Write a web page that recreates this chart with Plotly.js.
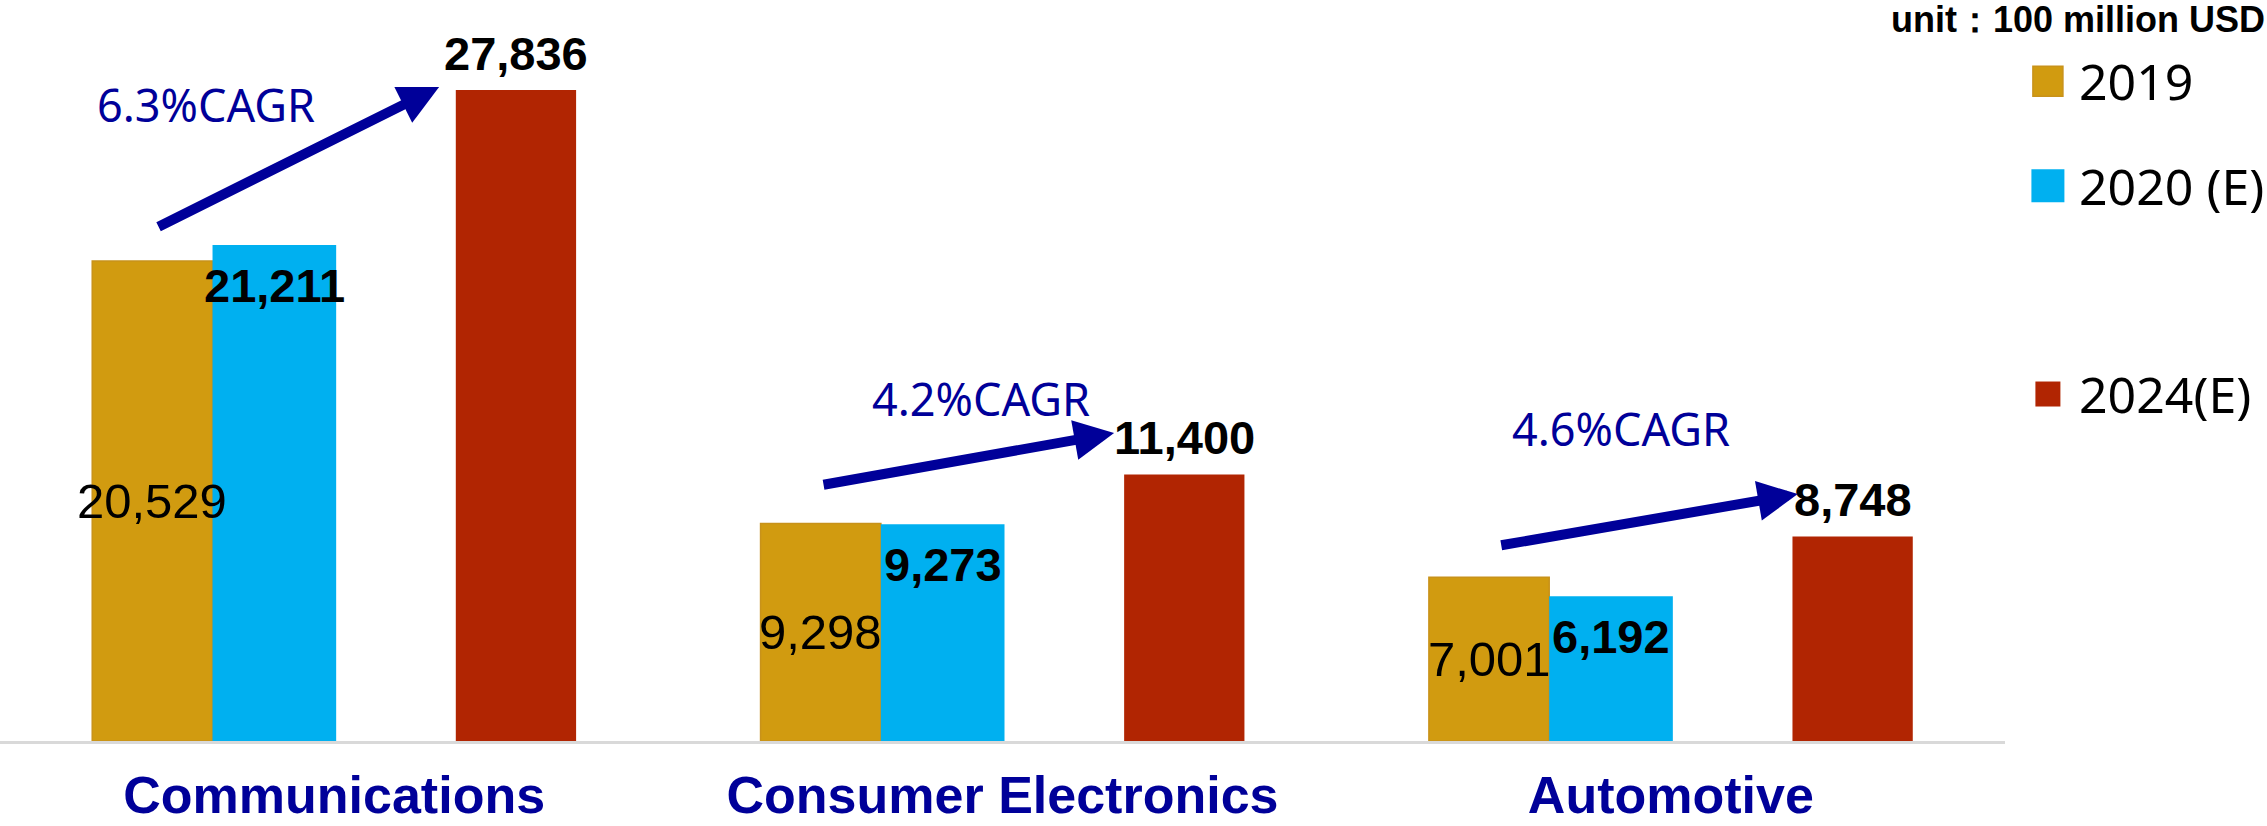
<!DOCTYPE html>
<html><head><meta charset="utf-8">
<script src="https://cdn.plot.ly/plotly-3.0.1.min.js"></script>
<style>html,body{margin:0;padding:0;background:#fff;} #chart{width:2267px;height:826px;}</style>
</head><body><div id="chart"></div>
<script>
// ---- data ----
const categories = ['Communications', 'Consumer Electronics', 'Automotive'];
const seriesNames = ['2019', '2020 (E)', '2024(E)'];
const values2019 = [20529, 9298, 7001];
const values2020 = [21211, 9273, 6192];
const values2024 = [27836, 11400, 8748];
const cagrLabels = ['6.3%CAGR', '4.2%CAGR', '4.6%CAGR'];
const unitLabel = 'unit：100 million USD';

// ---- styles ----
const colors = ['#D19B10', '#00B0F0', '#B12502'];
const navy = '#000099';
const series = [values2019, values2020, values2024];
const xIdx = categories.map((_, i) => i);
const slots = [{offset: -0.362, width: 0.18}, {offset: -0.182, width: 0.185}, {offset: 0.182, width: 0.18}];
const fmt = v => v.toLocaleString('en-US');
const arial = 'Liberation Sans, Arial, sans-serif';
const noto = 'Noto Sans, sans-serif';

const traces = series.map((vals, k) => ({
  type: 'bar', name: seriesNames[k], x: xIdx, y: vals,
  offset: slots[k].offset, width: slots[k].width,
  marker: {color: colors[k], line: {color: k === 0 ? '#C8921A' : colors[k], width: k === 0 ? 1.5 : 0}},
  showlegend: false, hoverinfo: 'skip'
}));

const annotations = [];
const center = (i, k) => i + slots[k].offset + slots[k].width / 2;
xIdx.forEach(i => {
  annotations.push({x: center(i, 0), y: values2019[i] / 2, xref: 'x', yref: 'y', text: fmt(values2019[i]),
    showarrow: false, xanchor: 'center', yanchor: 'middle', font: {family: arial, size: 49, color: '#000'}});
  annotations.push({x: center(i, 1), y: values2020[i], xref: 'x', yref: 'y', text: fmt(values2020[i]),
    showarrow: false, xanchor: 'center', yanchor: 'top', yshift: -12, font: {family: arial, size: 47, weight: 'bold', color: '#000'}});
  annotations.push({x: center(i, 2), y: values2024[i], xref: 'x', yref: 'y', text: fmt(values2024[i]),
    showarrow: false, xanchor: 'center', yanchor: 'bottom', yshift: 8, font: {family: arial, size: 47, weight: 'bold', color: '#000'}});
});

// CAGR texts and arrows (decorations)
const cagrPos = [{x: -0.192, y: 27195}, {x: 0.968, y: 14666}, {x: 1.925, y: 13383}];
const arrowPos = [
  {ax: -0.265, ay: 21957, x: 0.157, y: 27964},
  {ax: 0.730, ay: 10946, x: 1.167, y: 13170},
  {ax: 1.744, ay: 8359, x: 2.190, y: 10561}
];
cagrLabels.forEach((t, i) => {
  annotations.push({x: cagrPos[i].x, y: cagrPos[i].y, xref: 'x', yref: 'y', text: t, showarrow: false,
    xanchor: 'center', yanchor: 'middle', font: {family: noto, size: 45, color: navy}});
  const a = arrowPos[i];
  annotations.push({x: a.x, y: a.y, ax: a.ax, ay: a.ay, xref: 'x', yref: 'y', axref: 'x', ayref: 'y',
    text: '', showarrow: true, arrowhead: 2, arrowsize: 0.8, arrowwidth: 10, arrowcolor: navy, standoff: 0});
});

// unit label
annotations.push({x: 1.1307, y: 0.9945, xref: 'paper', yref: 'paper', text: unitLabel, showarrow: false,
  xanchor: 'right', yanchor: 'middle', font: {family: arial, size: 36, weight: 'bold', color: '#000'}});

// legend (manual, large swatches)
const legendY = [0.910, 0.766, 0.4786];
const swatch = [30, 33, 25];
const shapes = [];
seriesNames.forEach((n, k) => {
  const s = swatch[k] / 2;
  shapes.push({type: 'rect', xref: 'paper', yref: 'paper', xsizemode: 'pixel', ysizemode: 'pixel',
    xanchor: 1.0214, yanchor: legendY[k], x0: -s, x1: s, y0: -s, y1: s,
    fillcolor: colors[k], line: {width: k === 0 ? 1.5 : 0, color: '#C8921A'}});
  annotations.push({x: 1.0359, y: legendY[k], xref: 'paper', yref: 'paper', text: n, showarrow: false,
    xanchor: 'left', yanchor: 'middle', font: {family: noto, size: 50, color: '#000'}});
});

const layout = {
  width: 2267, height: 826,
  margin: {l: 0, r: 262, t: 16, b: 85},
  paper_bgcolor: '#fff', plot_bgcolor: '#fff',
  barmode: 'overlay', showlegend: false,
  xaxis: {range: [-0.5, 2.5], tickvals: xIdx, ticktext: categories, showgrid: false, zeroline: false,
    showline: true, linecolor: '#D9D9D9', linewidth: 3, ticks: '', ticklabelstandoff: 7,
    tickfont: {family: arial, size: 52, weight: 'bold', color: navy}, fixedrange: true},
  yaxis: {range: [0, 31000], visible: false, showgrid: false, zeroline: false, fixedrange: true},
  annotations: annotations, shapes: shapes
};

Plotly.newPlot('chart', traces, layout, {staticPlot: true, displayModeBar: false});
</script>
</body></html>
